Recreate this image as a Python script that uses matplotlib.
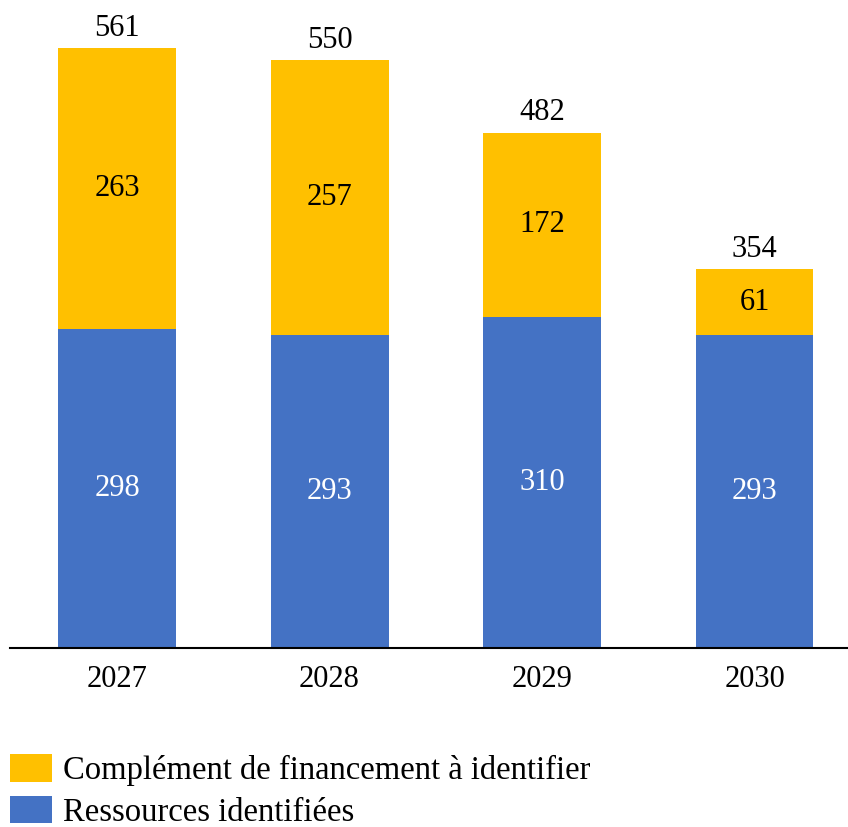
import matplotlib
matplotlib.use("Agg")
import matplotlib.pyplot as plt
from matplotlib.patches import Patch

years = ["2027", "2028", "2029", "2030"]
ressources = [298, 293, 310, 293]
complement = [263, 257, 172, 61]
totals = [561, 550, 482, 354]

plt.rcParams['font.family'] = ['Liberation Serif', 'DejaVu Serif']

W, H = 848, 827
fig = plt.figure(figsize=(W / 100, H / 100), dpi=100)
ax_left, ax_right, ax_bottom, ax_top = 10, 848, 648, 0
ax = fig.add_axes([ax_left / W, 1 - ax_bottom / H, (ax_right - ax_left) / W, (ax_bottom - ax_top) / H])

blue = "#4472C4"
yellow = "#FFC000"
x = list(range(len(years)))
width = 0.555
ax.bar(x, ressources, width, color=blue, zorder=2)
ax.bar(x, complement, width, bottom=ressources, color=yellow, zorder=2)

fs = 22
for i in x:
    ax.text(i, ressources[i] / 2, str(ressources[i]), ha='center', va='center', color='white', fontsize=fs)
    ax.text(i, ressources[i] + complement[i] / 2, str(complement[i]), ha='center', va='center', color='black', fontsize=fs)
    ax.text(i, totals[i] + 5, str(totals[i]), ha='center', va='bottom', color='black', fontsize=fs)

ax.set_xlim(-0.504, 3.44)
ax.set_ylim(0, 606)
ax.set_xticks(x)
ax.set_xticklabels(years, fontsize=fs)
ax.tick_params(axis='x', length=0, pad=12)
ax.set_yticks([])
for s in ['top', 'right', 'left']:
    ax.spines[s].set_visible(False)
ax.spines['bottom'].set_linewidth(1.5)

lfs = 23.5
handles = [Patch(facecolor=yellow, label="Complément de financement à identifier"),
           Patch(facecolor=blue, label="Ressources identifiées")]
fig.legend(handles=handles, loc='lower left', bbox_to_anchor=(0.0, -0.013), frameon=False,
           fontsize=lfs, handlelength=1.29, handleheight=0.92, handletextpad=0.34, labelspacing=0.3,
           borderaxespad=0.0, borderpad=0.3)

fig.savefig("out.png", dpi=100)
